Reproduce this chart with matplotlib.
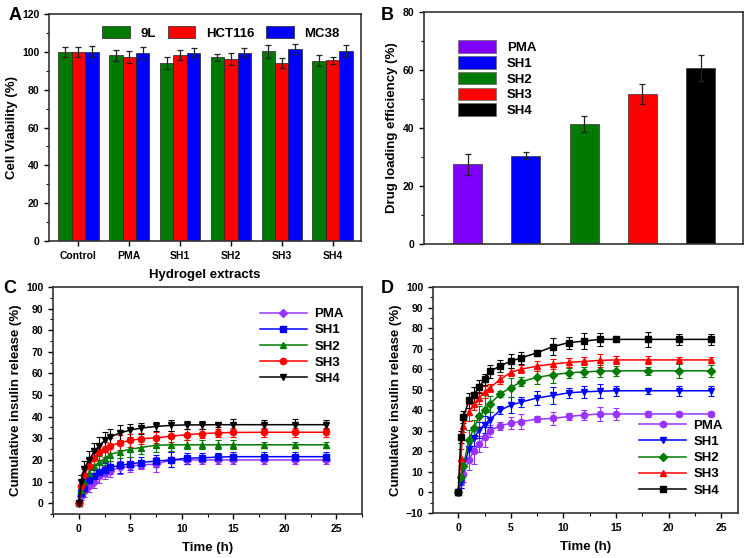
import matplotlib
matplotlib.use("Agg")
import matplotlib.pyplot as plt
import numpy as np
from matplotlib.ticker import MultipleLocator
from matplotlib.lines import Line2D

plt.rcParams['font.family'] = ['Liberation Sans', 'DejaVu Sans']
plt.rcParams['font.weight'] = 'bold'
plt.rcParams['axes.labelweight'] = 'bold'

# ---------- Panel A data ----------
a_groups = ["Control", "PMA", "SH1", "SH2", "SH3", "SH4"]
a_series = ["9L", "HCT116", "MC38"]
a_9L = [100.0, 98.2, 94.2, 97.2, 100.2, 95.3]
a_HCT116 = [100.0, 97.3, 98.2, 96.2, 94.2, 95.5]
a_MC38 = [100.0, 99.5, 99.5, 99.5, 101.5, 100.5]
a_9L_err = [2.8, 2.8, 3.3, 1.8, 3.3, 2.8]
a_HCT116_err = [2.5, 3.3, 2.5, 3.3, 2.5, 1.8]
a_MC38_err = [3.0, 3.2, 2.5, 2.3, 2.5, 3.2]
a_colors = ["#007A00", "#FF0000", "#0000FF"]

# ---------- Panel B data ----------
b_labels = ["PMA", "SH1", "SH2", "SH3", "SH4"]
b_vals = [27.5, 30.5, 41.5, 51.7, 60.8]
b_err = [3.7, 1.3, 2.8, 3.5, 4.5]
b_colors = ["#8000FF", "#0000FF", "#007A00", "#FF0000", "#000000"]

# ---------- Panel C / D data ----------
t = [0, 0.25, 0.5, 1, 1.5, 2, 2.5, 3, 4, 5, 6, 7.5, 9, 10.5, 12, 13.5, 15, 18, 21, 24]
series_names = ["PMA", "SH1", "SH2", "SH3", "SH4"]

c_PMA = [0, 3.5, 5.5, 8, 10, 12.5, 14, 15, 16.5, 17, 17.8, 18, 20, 20, 20, 20, 20, 20, 20, 20]
c_SH1 = [0, 4.5, 7, 10.5, 12.5, 14.5, 15.5, 16.5, 17.5, 18.2, 18.8, 19.5, 20, 20.8, 21, 21.3, 21.5, 21.5, 21.5, 21.5]
c_SH2 = [0, 6, 10, 14, 17, 19, 20.5, 22.5, 23.8, 25, 25.7, 26.8, 27, 27, 27, 27, 27, 27, 27, 27]
c_SH3 = [0, 8, 13, 17, 21, 23.5, 25, 26.5, 28, 29, 29.8, 30.2, 31, 31.7, 32.2, 32.5, 32.7, 32.8, 32.8, 32.8]
c_SH4 = [0, 10, 16, 20, 24, 26.5, 29, 30.5, 32.5, 33.8, 34.7, 35.5, 36, 36.2, 36.2, 36.3, 36.3, 36.3, 36.3, 36.3]
c_PMA_err = [0.5, 2, 2.5, 3, 3, 3, 3, 3, 3, 2.5, 2, 3.5, 3.5, 2, 2, 2, 2, 2, 2, 2]
c_SH1_err = [0.5, 2, 2.5, 3, 3, 3, 3, 3, 3.5, 3, 2.5, 3, 3.5, 2.5, 2, 2, 2, 2, 2, 2]
c_SH2_err = [0.5, 2, 3, 3, 3, 3, 3, 3, 3, 3.5, 3, 3, 3, 2, 2, 2, 2, 1.5, 1.5, 1.5]
c_SH3_err = [0.5, 3, 3, 3.5, 3.5, 3.5, 3.5, 3.5, 3.5, 3, 2.5, 2.5, 2.5, 2.5, 2, 2, 2, 2, 2, 2]
c_SH4_err = [0.5, 3, 3.5, 4, 4, 4, 4, 4, 3.5, 3, 2.5, 2, 2.5, 2, 2, 1, 2.5, 2, 2.5, 2]

d_PMA = [0, 5, 9, 16, 20, 23.5, 27, 30, 32.5, 33.7, 34.5, 35.7, 36, 37, 37.7, 38.2, 38.2, 38.2, 38.2, 38.2]
d_SH1 = [0, 5, 12, 21, 26.5, 30.5, 33, 35.5, 40, 42.5, 44, 46, 47.2, 48.5, 49, 49.3, 49.5, 49.5, 49.5, 49.5]
d_SH2 = [0, 7.5, 13, 25.5, 31.5, 37, 40, 43, 48, 51, 54, 56, 57.3, 58.2, 58.7, 59, 59.2, 59.2, 59.2, 59.2]
d_SH3 = [0, 17, 32.5, 39, 43, 46, 49, 51, 55, 58.5, 60, 61.5, 62.5, 63.3, 63.8, 64.3, 64.5, 64.5, 64.5, 64.5]
d_SH4 = [0, 27, 36.6, 44.8, 47.6, 51.5, 55, 58.9, 61.6, 63.9, 65.5, 68, 71, 72.9, 73.7, 74.5, 74.5, 74.5, 74.5, 74.5]
d_PMA_err = [1, 3, 4, 5, 6, 4, 5, 3, 2, 3, 3.5, 1.5, 3, 1.5, 2.5, 3.5, 3, 1.5, 1, 1]
d_SH1_err = [1, 3, 4, 4, 4, 4, 4, 3.5, 2, 4, 2.5, 3.5, 4, 2.5, 3, 3.5, 2.5, 1.5, 2.5, 2.5]
d_SH2_err = [1, 4, 4, 5, 4, 5, 6, 4, 1.5, 4.5, 2, 3, 4, 2.5, 2.5, 3, 2.5, 2, 3.5, 3]
d_SH3_err = [1, 4, 3, 4, 3, 3, 3, 2, 2, 2, 2, 2.5, 2.5, 2, 2, 3, 2, 2, 1.5, 1.5]
d_SH4_err = [1, 3, 3, 3.5, 3.5, 3, 2.5, 3, 3, 3.5, 3, 1.5, 4, 3, 4, 3, 1, 3.5, 2.5, 2.5]

mc_colors = ["#9933FF", "#0000FF", "#007A00", "#FF0000", "#000000"]

SPINE = "#333333"

fig = plt.figure(figsize=(7.5, 5.58), dpi=100)

def style(ax, fs=8):
    for s in ax.spines.values():
        s.set_color(SPINE)
        s.set_linewidth(1.2)
    ax.tick_params(axis='both', which='major', direction='out', length=3.5, width=1,
                   labelsize=fs, colors='black')
    ax.tick_params(axis='both', which='minor', direction='out', length=2, width=0.8)
    for lab in ax.get_xticklabels() + ax.get_yticklabels():
        lab.set_fontweight('bold')

# ---------- Panel A ----------
axA = fig.add_axes([0.0653, 0.568, 0.416, 0.407])
x = np.arange(len(a_groups))
w = 0.265
vals = [a_9L, a_HCT116, a_MC38]
errs = [a_9L_err, a_HCT116_err, a_MC38_err]
for i, (v, e, c, n) in enumerate(zip(vals, errs, a_colors, a_series)):
    axA.bar(x + (i - 1) * w, v, w, yerr=e, color=c, edgecolor='#222222', linewidth=0.5,
            capsize=2.5, error_kw=dict(elinewidth=0.9, capthick=0.9, ecolor='#222222'),
            label=n)
axA.set_xlim(-0.58, 5.56)
axA.set_ylim(0, 120)
axA.yaxis.set_major_locator(MultipleLocator(20))
axA.yaxis.set_minor_locator(MultipleLocator(10))
axA.set_xticks(x)
axA.set_xticklabels(a_groups)
axA.tick_params(axis='x', length=0)
axA.set_ylabel("Cell Viability (%)", fontsize=9.5, fontweight='bold', labelpad=3)
axA.set_xlabel("Hydrogel extracts", fontsize=9.5, fontweight='bold', labelpad=6)
style(axA, fs=7.5)
axA.legend(loc='upper right', ncol=3, frameon=False, handlelength=2.1,
           handleheight=1.1, columnspacing=0.9, handletextpad=0.8,
           bbox_to_anchor=(0.97, 1.0), prop={'weight': 'bold', 'size': 9.5})
fig.text(0.012, 0.965, "A", fontsize=13, fontweight='bold')

# ---------- Panel B ----------
axB = fig.add_axes([0.5653, 0.5627, 0.4254, 0.4158])
xb = np.arange(1, len(b_labels) + 1)
axB.bar(xb, b_vals, 0.5, yerr=b_err, color=b_colors, edgecolor='#333333',
        linewidth=0.5, capsize=2.5,
        error_kw=dict(elinewidth=0.9, capthick=0.9, ecolor='#222222'))
axB.set_xlim(0.25, 5.73)
axB.set_ylim(0, 80)
axB.yaxis.set_major_locator(MultipleLocator(20))
axB.yaxis.set_minor_locator(MultipleLocator(10))
axB.set_xticks([])
axB.set_ylabel("Drug loading efficiency (%)", fontsize=9.5, fontweight='bold', labelpad=3)
style(axB, fs=7.5)
handlesB = [plt.Rectangle((0, 0), 1, 1, facecolor=c, edgecolor='#666666', linewidth=0.5)
            for c in b_colors]
axB.legend(handlesB, b_labels, loc='upper left', frameon=False, bbox_to_anchor=(0.07, 0.93),
           handlelength=2.9, handleheight=1.1, labelspacing=0.15, handletextpad=0.8,
           prop={'weight': 'bold', 'size': 9.5})
fig.text(0.508, 0.965, "B", fontsize=13, fontweight='bold')

def line_handles(markers):
    hs = []
    for col, m in zip(mc_colors, markers):
        hs.append(Line2D([0], [0], color=col, marker=m, linewidth=1.1,
                         markersize=4.5 if m != "D" else 3.8))
    return hs

# ---------- Panel C ----------
axC = fig.add_axes([0.0707, 0.0789, 0.412, 0.4068])
c_data = [c_PMA, c_SH1, c_SH2, c_SH3, c_SH4]
c_errs = [c_PMA_err, c_SH1_err, c_SH2_err, c_SH3_err, c_SH4_err]
c_markers = ["D", "s", "^", "o", "v"]
for y, e, col, m, n in zip(c_data, c_errs, mc_colors, c_markers, series_names):
    axC.errorbar(t, y, yerr=e, color=col, marker=m, markersize=4.5 if m != "D" else 3.8,
                 linewidth=1.1, elinewidth=0.8, capsize=2.2, capthick=0.8, label=n,
                 ecolor=col)
axC.set_xlim(-2.5, 27.5)
axC.set_ylim(-5, 100)
axC.xaxis.set_major_locator(MultipleLocator(5))
axC.xaxis.set_minor_locator(MultipleLocator(2.5))
axC.yaxis.set_major_locator(MultipleLocator(10))
axC.yaxis.set_minor_locator(MultipleLocator(5))
axC.set_xlabel("Time (h)", fontsize=9.5, fontweight='bold', labelpad=6)
axC.set_ylabel("Cumulative insulin release (%)", fontsize=9.5, fontweight='bold', labelpad=3)
style(axC, fs=7.5)
axC.legend(line_handles(c_markers), series_names, loc='upper right', frameon=False,
           bbox_to_anchor=(0.98, 0.96), handlelength=3.5, labelspacing=0.3,
           handletextpad=0.6, prop={'weight': 'bold', 'size': 9.5})
fig.text(0.005, 0.475, "C", fontsize=13, fontweight='bold')

# ---------- Panel D ----------
axD = fig.add_axes([0.5773, 0.0806, 0.4067, 0.4051])
d_data = [d_PMA, d_SH1, d_SH2, d_SH3, d_SH4]
d_errs = [d_PMA_err, d_SH1_err, d_SH2_err, d_SH3_err, d_SH4_err]
d_markers = ["o", "v", "D", "^", "s"]
for y, e, col, m, n in zip(d_data, d_errs, mc_colors, d_markers, series_names):
    axD.errorbar(t, y, yerr=e, color=col, marker=m, markersize=4.5 if m != "D" else 3.8,
                 linewidth=1.1, elinewidth=0.8, capsize=2.2, capthick=0.8, label=n,
                 ecolor=col)
axD.set_xlim(-2.4, 26.6)
axD.set_ylim(-10, 100)
axD.xaxis.set_major_locator(MultipleLocator(5))
axD.xaxis.set_minor_locator(MultipleLocator(2.5))
axD.yaxis.set_major_locator(MultipleLocator(10))
axD.yaxis.set_minor_locator(MultipleLocator(5))
axD.set_xlabel("Time (h)", fontsize=9.5, fontweight='bold', labelpad=6)
axD.set_ylabel("Cumulative insulin release (%)", fontsize=9.5, fontweight='bold', labelpad=3)
style(axD, fs=7.5)
axD.legend(line_handles(d_markers), series_names, loc='lower right', frameon=False,
           bbox_to_anchor=(0.99, 0.02), handlelength=3.5, labelspacing=0.3,
           handletextpad=0.6, prop={'weight': 'bold', 'size': 9.5})
fig.text(0.507, 0.475, "D", fontsize=13, fontweight='bold')

fig.savefig("out.png", dpi=100)
